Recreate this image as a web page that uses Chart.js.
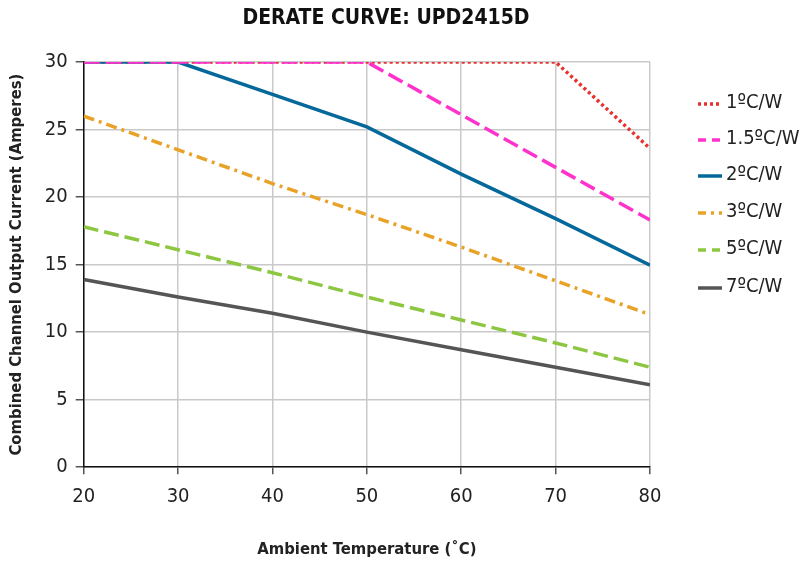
<!DOCTYPE html>
<html>
<head>
<meta charset="utf-8">
<script src="https://cdn.jsdelivr.net/npm/chart.js@4"></script>
<style>
html,body{margin:0;padding:0;background:#fff;}
#wrap{width:809px;height:562px;}
</style>
</head>
<body>
<div id="wrap"><canvas id="c" width="809" height="562"></canvas></div>
<script>
const FONT = '"Liberation Sans Narrow","DejaVu Sans Condensed","Roboto Condensed","Liberation Sans",sans-serif';

const chartTitle = 'DERATE CURVE: UPD2415D';
const xAxisTitle = 'Ambient Temperature (˚C)';
const yAxisTitle = 'Combined Channel Output Current (Amperes)';

const temperatures = [20, 30, 40, 50, 60, 70, 80];
const xTicks = [20, 30, 40, 50, 60, 70, 80];
const yTicks = [0, 5, 10, 15, 20, 25, 30];

const seriesNames = ['1ºC/W', '1.5ºC/W', '2ºC/W', '3ºC/W', '5ºC/W', '7ºC/W'];
const s1 = [30, 30, 30, 30, 30, 30, 23.6];
const s15 = [30, 30, 30, 30, 26.1, 22.2, 18.3];
const s2 = [30, 30, 27.6, 25.2, 21.7, 18.4, 14.95];
const s3 = [26.0, 23.5, 21.0, 18.7, 16.3, 13.8, 11.3];
const s5 = [17.8, 16.1, 14.4, 12.6, 10.9, 9.2, 7.4];
const s7 = [13.9, 12.6, 11.4, 10.0, 8.7, 7.4, 6.1];

const seriesValues = [s1, s15, s2, s3, s5, s7];
const seriesColors = ['#e8302e', '#ff33cc', '#05689a', '#e9a228', '#8dc641', '#555557'];
const seriesDash = [[3, 3], [16, 6], [], [11, 5, 3, 5], [15, 6], []];
// lower value = drawn on top (pink over blue over red)
const drawOrder = [2, 0, 1, 3, 4, 5];

const datasets = seriesNames.map((name, i) => ({
  label: name,
  data: temperatures.map((t, j) => ({x: t, y: seriesValues[i][j]})),
  borderColor: seriesColors[i],
  backgroundColor: seriesColors[i],
  borderWidth: 3.5,
  borderDash: seriesDash[i],
  pointRadius: 0,
  tension: 0,
  fill: false,
  order: drawOrder[i]
}));

const customPlugin = {
  id: 'custom',
  afterDraw(chart) {
    const ctx = chart.ctx;
    ctx.save();
    ctx.fillStyle = '#111';
    ctx.font = 'bold 21px ' + FONT;
    ctx.textAlign = 'center';
    ctx.textBaseline = 'middle';
    ctx.fillText(chartTitle, 386, 19);
    const x0 = 698, lw = 24;
    const ys = [103, 139, 175, 212, 249, 287];
    ctx.font = '20px ' + FONT;
    ctx.textAlign = 'left';
    seriesNames.forEach((n, i) => {
      ctx.strokeStyle = seriesColors[i];
      ctx.lineWidth = 3.5;
      ctx.setLineDash(seriesDash[i].length ? seriesDash[i].map(v => Math.min(v, 8)) : []);
      ctx.beginPath();
      ctx.moveTo(x0, ys[i] + 1);
      ctx.lineTo(x0 + lw, ys[i] + 1);
      ctx.stroke();
      ctx.setLineDash([]);
      ctx.fillStyle = '#222';
      ctx.fillText(n, x0 + lw + 4, ys[i]);
    });
    ctx.restore();
  }
};

new Chart(document.getElementById('c'), {
  type: 'line',
  data: {datasets},
  plugins: [customPlugin],
  options: {
    responsive: false,
    animation: false,
    devicePixelRatio: 1,
    layout: {padding: {top: 62, right: 159, bottom: 2, left: 7}},
    plugins: {legend: {display: false}, title: {display: false}, tooltip: {enabled: false}},
    scales: {
      x: {
        type: 'linear', min: 20, max: 80,
        afterBuildTicks: s => { s.ticks = xTicks.map(v => ({value: v})); },
        ticks: {font: {family: FONT, size: 20}, color: '#222', padding: 11},
        grid: {color: '#c9c9c9', lineWidth: 1.5, tickLength: 7, tickColor: '#555'},
        border: {color: '#111', width: 1.5},
        title: {display: true, text: xAxisTitle, font: {family: FONT, size: 16.5, weight: 'bold'}, color: '#222', padding: {top: 20, bottom: 0}}
      },
      y: {
        type: 'linear', min: 0, max: 30,
        afterBuildTicks: s => { s.ticks = yTicks.map(v => ({value: v})); },
        ticks: {font: {family: FONT, size: 20}, color: '#222', padding: 8},
        grid: {color: '#c9c9c9', lineWidth: 1.5, tickLength: 8, tickColor: '#555'},
        border: {color: '#111', width: 1.5},
        title: {display: true, text: yAxisTitle, font: {family: FONT, size: 16.5, weight: 'bold'}, color: '#222', padding: {top: 0, bottom: 10}}
      }
    }
  }
});
</script>
</body>
</html>
